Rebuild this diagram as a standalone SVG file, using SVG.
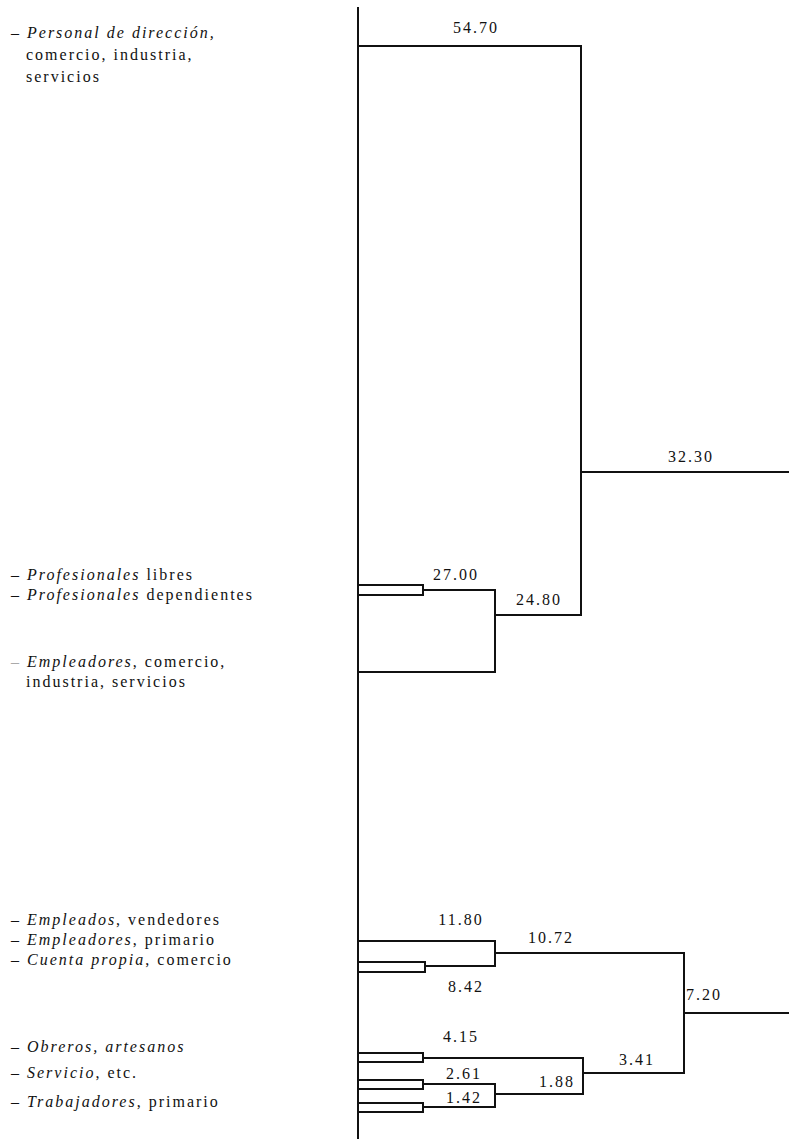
<svg xmlns="http://www.w3.org/2000/svg" width="789" height="1141" viewBox="0 0 789 1141">
<style>
.ln{fill:none;stroke:#111;stroke-width:2;stroke-linejoin:miter;stroke-linecap:square}
.lab{font-family:"Liberation Serif","Times New Roman",serif;font-size:16px;fill:#111;letter-spacing:2px}
.num{font-family:"Liberation Serif","Times New Roman",serif;font-size:16px;fill:#111;letter-spacing:2px;text-anchor:middle}
.it{font-style:italic}
.faint{fill:#aaa}
</style>
<rect width="789" height="1141" fill="#fff"/>
<g id="connectors">
<path class="ln" d="M358,8 V1138"/>
<path class="ln" d="M358,46 H581 V615 H495"/>
<path class="ln" d="M581,472 H789"/>
<path class="ln" d="M358,585 H423 V595 H358"/>
<path class="ln" d="M423,590 H495 V672 H358"/>
<path class="ln" d="M358,941 H495 V966 H425"/>
<path class="ln" d="M358,962 H425 V972 H358"/>
<path class="ln" d="M495,953 H684 V1073 H583"/>
<path class="ln" d="M684,1013 H789"/>
<path class="ln" d="M358,1053 H423 V1062 H358"/>
<path class="ln" d="M423,1058 H583 V1094 H495"/>
<path class="ln" d="M358,1080 H423 V1089 H358"/>
<path class="ln" d="M423,1084 H495 V1107 H423"/>
<path class="ln" d="M358,1103 H423 V1112 H358"/>
</g>
<g id="personal-direccion">
<text class="lab" x="11" y="38">– <tspan class="it">Personal de dirección,</tspan></text>
<text class="lab" x="26" y="60">comercio, industria,</text>
<text class="lab" x="26" y="82">servicios</text>
</g>
<g id="profesionales-libres"><text class="lab" x="11" y="580">– <tspan class="it">Profesionales</tspan> libres</text></g>
<g id="profesionales-dependientes"><text class="lab" x="11" y="600">– <tspan class="it">Profesionales</tspan> dependientes</text></g>
<g id="empleadores-comercio">
<text class="lab" x="11" y="667"><tspan class="faint">–</tspan> <tspan class="it">Empleadores</tspan>, comercio,</text>
<text class="lab" x="26" y="687">industria, servicios</text>
</g>
<g id="empleados-vendedores"><text class="lab" x="11" y="925">– <tspan class="it">Empleados</tspan>, vendedores</text></g>
<g id="empleadores-primario"><text class="lab" x="11" y="945">– <tspan class="it">Empleadores</tspan>, primario</text></g>
<g id="cuenta-propia"><text class="lab" x="11" y="965">– <tspan class="it">Cuenta propia</tspan>, comercio</text></g>
<g id="obreros"><text class="lab" x="11" y="1052">– <tspan class="it">Obreros, artesanos</tspan></text></g>
<g id="servicio"><text class="lab" x="11" y="1078">– <tspan class="it">Servicio</tspan>, etc.</text></g>
<g id="trabajadores"><text class="lab" x="11" y="1107">– <tspan class="it">Trabajadores</tspan>, primario</text></g>
<g id="n5470"><text class="num" x="476" y="33">54.70</text></g>
<g id="n3230"><text class="num" x="691" y="462">32.30</text></g>
<g id="n2700"><text class="num" x="456" y="580">27.00</text></g>
<g id="n2480"><text class="num" x="539" y="605">24.80</text></g>
<g id="n1180"><text class="num" x="461" y="925">11.80</text></g>
<g id="n1072"><text class="num" x="551" y="943">10.72</text></g>
<g id="n842"><text class="num" x="466" y="992">8.42</text></g>
<g id="n720"><text class="num" x="704" y="1000">7.20</text></g>
<g id="n415"><text class="num" x="461" y="1042">4.15</text></g>
<g id="n341"><text class="num" x="637" y="1065">3.41</text></g>
<g id="n261"><text class="num" x="464" y="1079">2.61</text></g>
<g id="n188"><text class="num" x="557" y="1087">1.88</text></g>
<g id="n142"><text class="num" x="464" y="1103">1.42</text></g>
</svg>
